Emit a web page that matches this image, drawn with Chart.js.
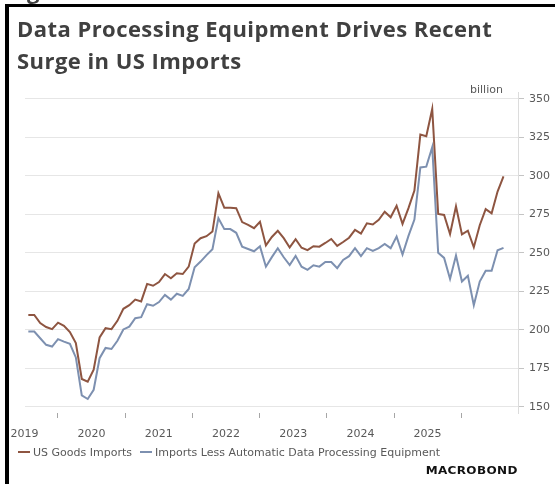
<!DOCTYPE html>
<html>
<head>
<meta charset="utf-8">
<script src="https://cdn.jsdelivr.net/npm/chart.js@4.4.1/dist/chart.umd.min.js"></script>
<style>
  html, body { margin: 0; padding: 0; background: #fff; }
  body { width: 555px; height: 484px; position: relative; overflow: hidden; font-family: "DejaVu Sans", sans-serif; }
  #chart { position: absolute; left: 0; top: 0; }
  #frame { position: absolute; left: 5px; top: 4px; right: 0; bottom: 0; border-top: 3px solid #000; border-left: 4px solid #000; pointer-events: none; }
  .title { position: absolute; left: 17px; font: 700 22px/32px "Open Sans", sans-serif; letter-spacing: 0.45px; color: #404040; white-space: nowrap; }
  .unit { position: absolute; left: 470px; top: 83px; font-size: 11px; color: #595959; }
  .legend-item { position: absolute; top: 445px; font-size: 11px; line-height: 15px; color: #595959; white-space: nowrap; }
  .legend-item i { display: inline-block; width: 12px; height: 2px; vertical-align: middle; margin-right: 3px; position: relative; top: -1px; }
  .logo { position: absolute; right: 37px; top: 466px; font: 700 10px/10px "DejaVu Sans", sans-serif; color: #111; letter-spacing: 0.3px; transform: scaleX(1.2); transform-origin: right center; }
</style>
</head>
<body>
<canvas id="chart" width="555" height="484"></canvas>
<div id="frame"></div>
<div class="title" style="left:27px; top:-26px;">g</div>
<div class="title" style="top:12px;">Data Processing Equipment Drives Recent</div>
<div class="title" style="top:44px;">Surge in US Imports</div>
<div class="unit">billion</div>
<div class="legend-item" id="leg0" style="left:18px;"></div>
<div class="legend-item" id="leg1" style="left:140px;"></div>
<div class="logo">MACROBOND</div>
<script>
// monthly values, billion USD
const goodsImports = [
  209.6, 209.6, 204.3, 201.8, 200.4, 204.6, 202.5, 198.5, 191.3, 168.0,
  166.3, 174.0, 195.0, 201.0, 200.4, 205.8, 213.6, 216.0, 219.6, 218.4,
  229.8, 228.6, 231.0, 236.2, 233.5, 236.7, 236.2, 241.0, 256.0, 259.5,
  260.8, 263.8, 288.7, 279.2, 279.2, 279.0, 270.0, 268.1, 266.0, 270.1,
  254.8, 260.3, 264.3, 259.5, 253.5, 258.8, 253.3, 251.7, 254.3, 254.0,
  256.4, 259.0, 254.5, 257.0, 259.8, 264.9, 262.5, 269.2, 268.4, 271.4,
  276.7, 273.1, 280.6, 268.8, 279.0, 290.5, 326.8, 325.7, 343.5, 275.3,
  274.6, 262.2, 280.2, 262.0, 264.4, 253.6, 267.9, 278.4, 275.7, 289.8,
  299.7
];
const importsLessAdp = [
  198.8, 198.8, 194.5, 190.2, 189.1, 193.9, 192.3, 190.8, 182.0, 157.3,
  155.0, 161.0, 181.5, 188.2, 187.5, 192.8, 200.2, 202.0, 207.5, 208.2,
  216.6, 215.6, 218.0, 222.6, 219.6, 223.4, 222.0, 226.5, 240.6, 244.3,
  248.5, 252.3, 272.5, 265.4, 265.4, 263.0, 254.0, 252.5, 251.0, 254.2,
  241.0, 247.2, 253.0, 247.1, 242.0, 248.0, 241.0, 238.9, 241.9, 241.0,
  244.0, 244.0, 240.0, 245.4, 247.8, 253.0, 247.8, 253.0, 251.2, 253.0,
  255.7, 253.0, 260.5, 248.9, 261.0, 271.6, 305.5, 306.0, 318.6, 250.1,
  246.7, 233.0, 248.2, 231.3, 235.1, 216.0, 231.3, 238.3, 238.3, 251.6,
  253.2
];
const yearLabels = ['2019', '2020', '2021', '2022', '2023', '2024', '2025'];
const seriesNames = ['US Goods Imports', 'Imports Less Automatic Data Processing Equipment'];
const seriesColors = ['#8e5541', '#7d90b0'];

const axisFont = { family: 'DejaVu Sans', size: 11 };

// legend
seriesNames.forEach((name, i) => {
  const el = document.getElementById('leg' + i);
  el.innerHTML = '<i style="background:' + seriesColors[i] + '"></i>' + name;
});

const yearMin = 2019.509;
const yearMax = 2026.845;

new Chart(document.getElementById('chart'), {
  type: 'line',
  data: {
    datasets: [goodsImports, importsLessAdp].map((values, s) => ({
      label: seriesNames[s],
      data: values.map((v, i) => ({ x: i, y: v })),
      borderColor: seriesColors[s],
      borderWidth: 2,
      pointRadius: 0,
      tension: 0,
      xAxisID: 'x',
      yAxisID: 'y'
    }))
  },
  options: {
    responsive: false,
    animation: false,
    layout: { padding: { left: 25, right: 0, top: 92, bottom: 46 } },
    plugins: {
      legend: { display: false },
      tooltip: { enabled: false }
    },
    scales: {
      x: { type: 'linear', display: false, min: -0.56, max: 82.44 },
      // year boundary tick marks
      xt: {
        type: 'linear',
        position: 'bottom',
        weight: 0,
        min: yearMin,
        max: yearMax,
        ticks: { display: false, stepSize: 1, includeBounds: false },
        grid: { drawOnChartArea: false, drawTicks: true, tickLength: 5, tickColor: '#a6a6a6', color: '#a6a6a6' },
        border: { display: false }
      },
      // year labels centred in each year
      xl: {
        type: 'linear',
        position: 'bottom',
        weight: 1,
        min: yearMin,
        max: yearMax,
        grid: { display: false },
        border: { display: false },
        ticks: {
          autoSkip: false,
          maxRotation: 0,
          padding: 2,
          font: axisFont,
          color: '#595959',
          callback: (v, i) => yearLabels[i]
        },
        afterBuildTicks: (scale) => {
          scale.ticks = yearLabels.map((y) => ({ value: Number(y) + 0.5 }));
        },
        afterFit: (scale) => { scale.height = 20; }
      },
      y: {
        position: 'right',
        min: 145.9,
        max: 354.5,
        ticks: { stepSize: 25, includeBounds: false, padding: 5, font: axisFont, color: '#595959' },
        grid: { color: '#e6e6e6', tickLength: 6, tickColor: '#c4c4c4' },
        border: { color: '#dcdcdc' },
        afterFit: (scale) => { scale.width = 37; }
      }
    }
  }
});
</script>
</body>
</html>
